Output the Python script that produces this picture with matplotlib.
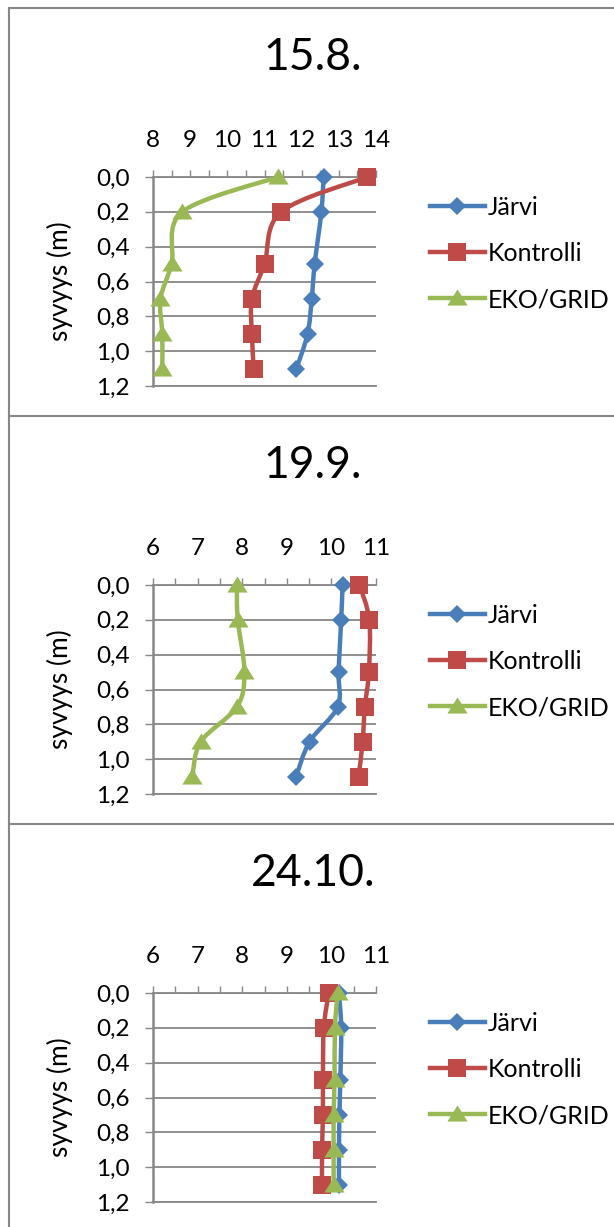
import matplotlib
matplotlib.use("Agg")
import matplotlib.pyplot as plt
from matplotlib.path import Path
from matplotlib.patches import PathPatch
from matplotlib.lines import Line2D
from matplotlib.ticker import MultipleLocator

plt.rcParams['font.family'] = ['Lato', 'DejaVu Sans']

# --- Data ---
depth = [0.0, 0.2, 0.5, 0.7, 0.9, 1.1]
titles = ["15.8.", "19.9.", "24.10."]
series_names = ["Järvi", "Kontrolli", "EKO/GRID"]

jarvi_1 = [12.59, 12.53, 12.35, 12.27, 12.16, 11.86]
kontrolli_1 = [13.77, 11.45, 11.0, 10.66, 10.66, 10.71]
eko_1 = [11.36, 8.79, 8.5, 8.2, 8.25, 8.25]

jarvi_2 = [10.25, 10.22, 10.16, 10.14, 9.51, 9.21]
kontrolli_2 = [10.63, 10.85, 10.84, 10.75, 10.70, 10.61]
eko_2 = [7.88, 7.90, 8.05, 7.88, 7.07, 6.88]

jarvi_3 = [10.17, 10.22, 10.20, 10.18, 10.17, 10.17]
kontrolli_3 = [9.94, 9.83, 9.81, 9.81, 9.79, 9.79]
eko_3 = [10.14, 10.08, 10.07, 10.05, 10.05, 10.05]

x_limits = [(8, 14), (6, 11), (6, 11)]
y_ticks = [0.0, 0.2, 0.4, 0.6, 0.8, 1.0, 1.2]
y_tick_labels = ["0,0", "0,2", "0,4", "0,6", "0,8", "1,0", "1,2"]

panels = [
    (jarvi_1, kontrolli_1, eko_1),
    (jarvi_2, kontrolli_2, eko_2),
    (jarvi_3, kontrolli_3, eko_3),
]

# --- Style ---
COLORS = ['#4A7EBB', '#BE4B48', '#98B954']
GRAY = '#878787'
TRIANGLE = [(-1, -0.7), (1, -0.7), (0, 0.9)]
MARKERS = [dict(marker='D', markersize=9.0),
           dict(marker='s', markersize=13.5),
           dict(marker=TRIANGLE, markersize=14.5)]
LW = 3.2

W, H = 614, 1227
fig = plt.figure(figsize=(W / 100, H / 100), dpi=100)


def smooth_path(xs, ys):
    """Excel-like smoothed line through the points (cubic Bezier)."""
    pts = list(zip(xs, ys))
    n = len(pts)
    verts = [pts[0]]
    codes = [Path.MOVETO]
    for i in range(n - 1):
        p0 = pts[i - 1] if i > 0 else pts[i]
        p1 = pts[i]
        p2 = pts[i + 1]
        p3 = pts[i + 2] if i + 2 < n else pts[i + 1]
        c1 = (p1[0] + (p2[0] - p0[0]) / 6, p1[1] + (p2[1] - p0[1]) / 6)
        c2 = (p2[0] - (p3[0] - p1[0]) / 6, p2[1] - (p3[1] - p1[1]) / 6)
        verts += [c1, c2, p2]
        codes += [Path.CURVE4] * 3
    return Path(verts, codes)


panel_tops = [8, 416, 824]
for i, (data, xlim) in enumerate(zip(panels, x_limits)):
    top = panel_tops[i]
    ax_top = top + 169
    ax_h = 209
    ax = fig.add_axes([153 / W, 1 - (ax_top + ax_h) / H, 223 / W, ax_h / H])

    for k, vals in enumerate(data):
        patch = PathPatch(smooth_path(vals, depth), fill=False, edgecolor=COLORS[k],
                          lw=LW, capstyle='round', joinstyle='round', zorder=3 + 2 * k)
        ax.add_patch(patch)
        ax.plot(vals, depth, linestyle='none', color=COLORS[k], markeredgewidth=0,
                zorder=4 + 2 * k, clip_on=False, **MARKERS[k])

    ax.set_xlim(*xlim)
    ax.set_ylim(1.2, 0.0)
    ax.xaxis.set_major_locator(MultipleLocator(1))
    ax.xaxis.set_minor_locator(MultipleLocator(0.5))
    ax.set_yticks(y_ticks)
    ax.set_yticklabels(y_tick_labels)

    ax.xaxis.tick_top()
    ax.tick_params(axis='x', which='both', length=5, width=1, color=GRAY,
                   pad=14, labelsize=17.5, top=True, bottom=False,
                   labeltop=True, labelbottom=False)
    ax.tick_params(axis='y', length=6, width=1, color=GRAY, pad=11, labelsize=17.5)

    ax.yaxis.grid(True, color=GRAY, lw=1.3)
    ax.set_axisbelow(True)
    for side in ['top', 'left', 'bottom']:
        ax.spines[side].set_color(GRAY)
        ax.spines[side].set_linewidth(1.3)
    ax.spines['left'].set_linewidth(1.8)
    ax.spines['right'].set_visible(False)

    handles = [Line2D([], [], color=COLORS[k], lw=LW, markeredgewidth=0, **MARKERS[k])
               for k in range(3)]
    ax.legend(handles, series_names, loc='center left', bbox_to_anchor=(1.242, 0.635),
              frameon=False, fontsize=18, handlelength=2.2, handletextpad=0.12,
              labelspacing=0.93, borderpad=0, borderaxespad=0)

    fig.text(313 / W, 1 - (top + 49) / H, titles[i], ha='center', va='center', fontsize=32)
    fig.text(60 / W, 1 - (ax_top + ax_h / 2) / H, "syvyys (m)", rotation=90,
             ha='center', va='center', fontsize=19)

# panel borders
for y in panel_tops:
    fig.add_artist(Line2D([9 / W, 1], [1 - y / H, 1 - y / H], color=GRAY, lw=1.5))
fig.add_artist(Line2D([9 / W, 9 / W], [1 - 8 / H, 0], color=GRAY, lw=1.5))

fig.savefig("out.png", dpi=100)
